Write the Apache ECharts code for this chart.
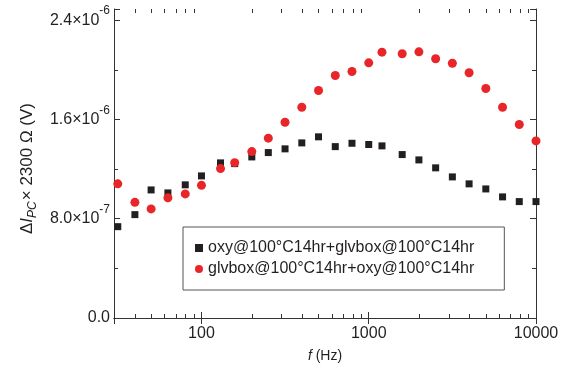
<!DOCTYPE html>
<html>
<head>
<meta charset="utf-8">
<script src="https://cdn.jsdelivr.net/npm/echarts@6/dist/echarts.min.js"></script>
<style>
  html, body { margin: 0; padding: 0; background: #fff; }
  #chart { width: 569px; height: 371px; }
</style>
</head>
<body>
<div id="chart"></div>
<script>
// measurement frequencies (Hz)
const freq = [31.6, 40, 50, 63, 80, 100, 130, 158, 200, 251, 316, 398, 501, 631, 794, 1000,
              1200, 1585, 1995, 2512, 3162, 3981, 5012, 6310, 7943, 10000];
// ΔI_PC × 2300 Ω, in units of 1e-6 V
const oxyThenGlv = [0.736, 0.833, 1.032, 1.008, 1.073, 1.145, 1.250, 1.244, 1.298, 1.333, 1.363, 1.411, 1.460,
                    1.381, 1.408, 1.398, 1.387, 1.317, 1.274, 1.210, 1.137, 1.081, 1.040, 0.976, 0.938, 0.938];
const glvThenOxy = [1.081, 0.932, 0.879, 0.968, 1.000, 1.069, 1.204, 1.252, 1.341, 1.449, 1.577, 1.698, 1.833,
                    1.954, 1.986, 2.056, 2.142, 2.129, 2.145, 2.089, 2.053, 1.976, 1.849, 1.698, 1.559, 1.427];
const seriesNames = ['oxy@100°C14hr+glvbox@100°C14hr', 'glvbox@100°C14hr+oxy@100°C14hr'];

const yTicks = [0, 0.8, 1.6, 2.4];
const yTickLabels = [['0.0', ''], ['8.0×10', '-7'], ['1.6×10', '-6'], ['2.4×10', '-6']];
const xTicks = [100, 1000, 10000];
const xTickLabels = ['100', '1000', '10000'];
const xMinorTicks = [40, 50, 60, 70, 80, 90, 200, 300, 400, 500, 600, 700, 800, 900,
                     2000, 3000, 4000, 5000, 6000, 7000, 8000, 9000];

const ink = '#231f20';
const frame = '#333';
const font = "'Liberation Sans', Arial, sans-serif";

let myChart = echarts.init(document.getElementById('chart'));

const yLabel = function (v) {
    const i = yTicks.findIndex(t => Math.abs(t - v) < 1e-6);
    if (i < 0) return '';
    const [m, e] = yTickLabels[i];
    return e ? '{m|' + m + '}{e|' + e + '}' : '{m|' + m + '}';
};
const xLabel = function (v) {
    const i = xTicks.indexOf(Math.round(v));
    return i < 0 ? '' : xTickLabels[i];
};

const xBase = {
    type: 'log',
    logBase: 10,
    min: 30,
    max: 10000,
    axisLine: { show: true, lineStyle: { color: frame, width: 1 } },
    axisTick: { show: true, inside: true, length: 6, lineStyle: { color: frame } },
    splitLine: { show: false }
};
const yBase = {
    type: 'value',
    min: 0,
    max: 2.49,
    interval: 0.8,
    axisLine: { show: true, lineStyle: { color: frame, width: 1 } },
    axisTick: { show: true, inside: true, length: 6, lineStyle: { color: frame } },
    minorTick: { show: true, splitNumber: 2, length: 4, lineStyle: { color: frame } },
    splitLine: { show: false },
    minorSplitLine: { show: false }
};

const option = {
    animation: false,
    textStyle: { fontFamily: font },
    grid: { left: 114, right: 33, top: 9, bottom: 53 },
    legend: {
        data: [
            { name: seriesNames[0], icon: 'rect' },
            { name: seriesNames[1], icon: 'circle' }
        ],
        orient: 'vertical',
        left: 183,
        top: 227,
        itemWidth: 8,
        itemHeight: 8,
        itemGap: 5,
        padding: [13, 30, 13, 12],
        borderColor: '#555',
        borderWidth: 1,
        textStyle: { fontFamily: font, fontSize: 16, color: ink }
    },
    xAxis: [
        Object.assign({}, xBase, {
            position: 'bottom',
            name: '{i|f} (Hz)',
            nameLocation: 'middle',
            nameGap: 31,
            nameTextStyle: {
                fontFamily: font, fontSize: 14, color: ink,
                rich: { i: { fontFamily: font, fontSize: 14, fontStyle: 'italic', color: ink } }
            },
            axisLabel: {
                show: true, showMinLabel: false, margin: 8,
                fontFamily: font, fontSize: 16, color: ink,
                formatter: xLabel
            }
        }),
        Object.assign({}, xBase, {
            position: 'top',
            axisLabel: { show: false }
        })
    ],
    yAxis: [
        Object.assign({}, yBase, {
            position: 'left',
            name: '{d|Δ}{i|I}{s|PC}{d|× 2300 Ω (V)}',
            nameLocation: 'middle',
            nameRotate: 90,
            nameGap: 78,
            nameTextStyle: {
                fontFamily: font, fontSize: 17, color: ink,
                padding: [0, 10, 0, 0],
                rich: {
                    d: { fontFamily: font, fontSize: 17, lineHeight: 17, color: ink, verticalAlign: 'top' },
                    i: { fontFamily: font, fontSize: 17, lineHeight: 17, fontStyle: 'italic', color: ink, verticalAlign: 'top' },
                    s: { fontFamily: font, fontSize: 12, lineHeight: 12, fontStyle: 'italic', color: ink,
                         verticalAlign: 'top', padding: [8, 1, 0, 0] }
                }
            },
            axisLabel: {
                show: true, showMaxLabel: false, margin: 4,
                formatter: yLabel,
                rich: {
                    m: { fontFamily: font, fontSize: 16, lineHeight: 16, color: ink, verticalAlign: 'bottom' },
                    e: { fontFamily: font, fontSize: 12, lineHeight: 12, color: ink, verticalAlign: 'bottom',
                         padding: [0, 0, 11, 0] }
                }
            }
        }),
        Object.assign({}, yBase, {
            position: 'right',
            axisLabel: { show: false }
        })
    ],
    series: [
        {
            name: seriesNames[0],
            type: 'scatter',
            symbol: 'rect',
            symbolSize: 7,
            itemStyle: { color: ink, opacity: 1 },
            data: freq.map((f, i) => [f, oxyThenGlv[i]]),
            z: 3
        },
        {
            name: seriesNames[1],
            type: 'scatter',
            symbol: 'circle',
            symbolSize: 9,
            itemStyle: { color: '#e8262a', opacity: 1 },
            data: freq.map((f, i) => [f, glvThenOxy[i]]),
            z: 4
        },
        {
            // minor ticks of the log axis, on the bottom and top edges
            type: 'custom',
            silent: true,
            clip: false,
            data: xMinorTicks.map(v => [v, 0]),
            renderItem: function (params, api) {
                const cs = params.coordSys;
                const x = Math.round(api.coord([api.value(0), 0])[0]) + 0.5;
                const style = { stroke: frame, lineWidth: 1 };
                return {
                    type: 'group',
                    children: [
                        { type: 'line', shape: { x1: x, y1: cs.y + cs.height, x2: x, y2: cs.y + cs.height - 4 }, style: style },
                        { type: 'line', shape: { x1: x, y1: cs.y, x2: x, y2: cs.y + 4 }, style: style }
                    ]
                };
            },
            z: 2
        }
    ]
};

myChart.setOption(option);
window.addEventListener('resize', () => {
    myChart.resize()
})
</script>
</body>
</html>
